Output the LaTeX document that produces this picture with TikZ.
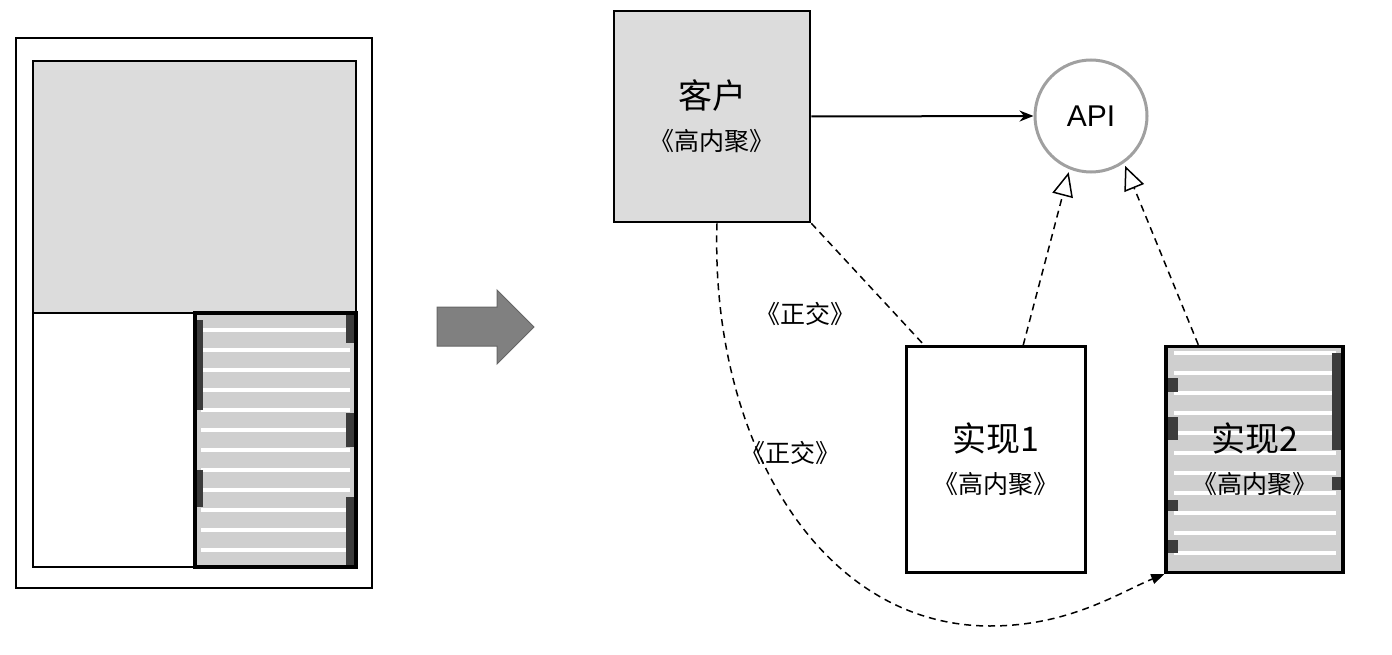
\documentclass[tikz,border=0pt]{standalone}
\usepackage{fontspec}
\setsansfont{Liberation Sans}
\newfontfamily\cjk{Noto Sans CJK SC}
\usetikzlibrary{arrows.meta}

\definecolor{panelgray}{HTML}{DCDCDC}
\definecolor{stripegray}{HTML}{CFCFCF}
\definecolor{bardark}{HTML}{3C3C3C}
\definecolor{arrowgray}{HTML}{808080}
\definecolor{ringgray}{HTML}{A0A0A0}

\newcommand{\titlefont}{\fontsize{34}{42}\selectfont}
\newcommand{\stereofont}{\fontsize{25}{42}\selectfont}

\tikzset{
  module/.style={draw=black, line width=2.6pt, inner sep=0pt, align=center, font=\cjk\stereofont},
  iface/.style={circle, draw=ringgray, line width=3pt, fill=white, minimum size=112pt, inner sep=0pt, font=\sffamily\fontsize{30}{34}\selectfont},
  tag/.style={inner sep=1pt, font=\cjk\fontsize{25}{30}\selectfont},
  dep/.style={line width=1.5pt, dash pattern=on 7pt off 5pt},
  realize/.style={dep, -{Triangle[open, length=24pt, width=21pt, fill=white, line width=1.5pt]}, shorten >=3pt},
}

\begin{document}
\begin{tikzpicture}[x=1pt, y=-1pt, line join=miter]

  %% ════ 左侧：模块示意 ════
  \draw[line width=2.4pt] (16,38) rectangle (372,588);
  \draw[line width=2.4pt, fill=panelgray] (33,61) rectangle (356,313);
  \draw[line width=2.4pt] (33,313) rectangle (195,567);
  % 条纹块
  \fill[stripegray] (195,313) rectangle (356,567);
  \foreach \k in {0,...,11}
    \fill[white] (201,{328+20*\k}) rectangle (350,{332+20*\k});
  \foreach \ya/\yb in {320/410, 470/507}
    \fill[bardark] (196,\ya) rectangle (203,\yb);
  \foreach \ya/\yb in {315/343, 413/447, 497/565}
    \fill[bardark] (346,\ya) rectangle (355,\yb);
  \draw[line width=3.6pt] (195,313) rectangle (356,567);

  %% ════ 中间箭头 ════
  \filldraw[fill=arrowgray, draw=black!60, line width=1pt]
    (437,307) -- (497,307) -- (497,290) -- (534,327) -- (497,364) -- (497,346) -- (437,346) -- cycle;

  %% ════ 右侧：条纹底（实现2）════
  \fill[stripegray] (1166,346) rectangle (1343,572);
  \foreach \k in {0,...,10}
    \fill[white] (1174,{351+20*\k}) rectangle (1336,{355+20*\k});
  \foreach \ya/\yb in {378/392, 417/440, 500/511, 540/553}
    \fill[bardark] (1167,\ya) rectangle (1178,\yb);
  \foreach \ya/\yb in {353/450, 477/490}
    \fill[bardark] (1332,\ya) rectangle (1342,\yb);

  %% ════ 节点 ════
  \node[module, fill=panelgray, minimum width=196pt, minimum height=211pt] (client) at (712,116.5)
    {{\titlefont 客户}\\《高内聚》};
  \node[iface] (api) at (1091,116) {API};
  \node[module, minimum width=179pt, minimum height=226pt] (impl1) at (996,459.5)
    {{\titlefont 实现1}\\《高内聚》};
  \node[module, line width=3.4pt, minimum width=177pt, minimum height=226pt] (impl2) at (1254.5,459.5)
    {{\titlefont 实现2}\\《高内聚》};
  \node[tag] (orthA) at (805,314) {《正交》};
  \node[tag] (orthB) at (790,453) {《正交》};

  %% ════ 连线 ════
  \draw[line width=2pt, -{Stealth[length=14pt, width=11pt]}] (client.east) -- (api.west);
  \draw[dep] (client.south east) -- ([xshift=19pt]impl1.north west);
  \draw[realize] ([xshift=118pt]impl1.north west) -- (api.248);
  \draw[realize] ([xshift=34pt]impl2.north west) -- (api.305);
  \draw[dep, -{Triangle[length=13pt, width=10pt]}] ([xshift=5pt]client.south)
    .. controls (710,440) and (820,626) .. (990,626)
    .. controls (1070,626) and (1120,592) .. (impl2.south west);

  % 钉死画布
  \pgfresetboundingbox
  \path[use as bounding box] (0,0) rectangle (1392,655);
\end{tikzpicture}
\end{document}
